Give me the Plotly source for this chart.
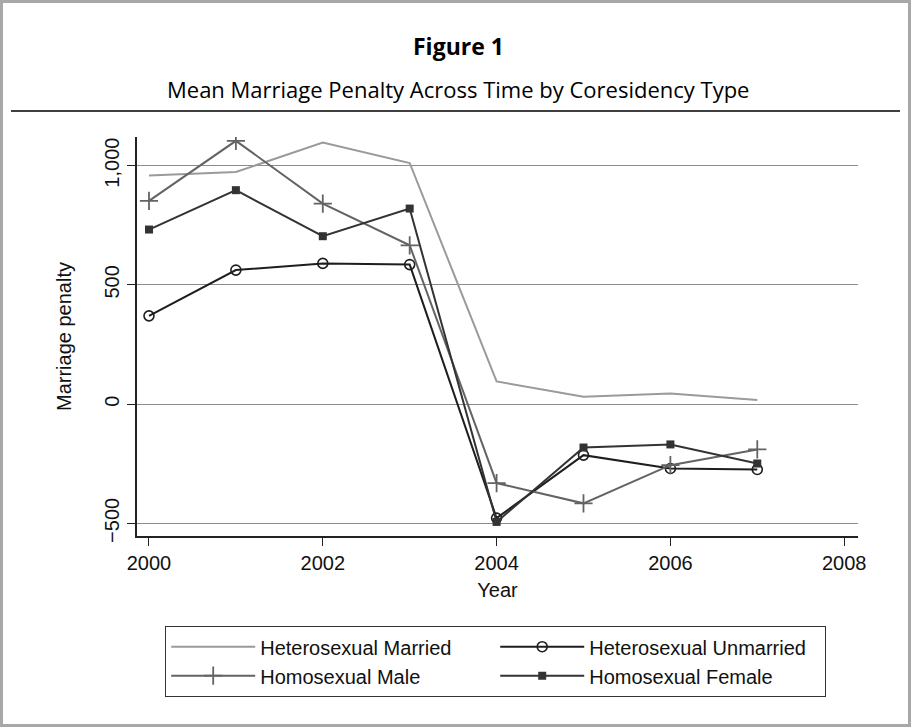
import plotly.graph_objects as go

# Survey years and mean marriage penalty by coresidency type
years = [2000, 2001, 2002, 2003, 2004, 2005, 2006, 2007]
hetero_married = [959, 973, 1097, 1011, 95, 31, 45, 17]
hetero_unmarried = [370, 562, 590, 585, -478, -214, -270, -274]
homo_male = [852, 1104, 841, 666, -331, -416, -256, -190]
homo_female = [732, 897, 704, 820, -494, -182, -169, -249]

y_ticks = [-500, 0, 500, 1000]
y_tick_text = ["\u2212500", "0", "500", "1,000"]
x_ticks = [2000, 2002, 2004, 2006, 2008]

AXIS_FONT = "Liberation Sans, Arial, sans-serif"
TITLE_FONT = "'Open Sans', Lato, sans-serif"
FS = 20

fig = go.Figure()

fig.add_trace(go.Scatter(
    x=years, y=hetero_married, name="Heterosexual Married",
    mode="lines", line=dict(color="#9a9a9a", width=2),
))
fig.add_trace(go.Scatter(
    x=years, y=hetero_unmarried, name="Heterosexual Unmarried",
    mode="lines+markers", line=dict(color="#1e1e1e", width=2),
    marker=dict(symbol="circle-open", size=10, color="#1e1e1e",
                line=dict(width=1.6, color="#1e1e1e")),
))
fig.add_trace(go.Scatter(
    x=years, y=homo_male, name="Homosexual Male",
    mode="lines+markers", line=dict(color="#636363", width=2),
    marker=dict(symbol="cross-thin", size=13, color="#636363",
                line=dict(width=1.8, color="#636363")),
))
fig.add_trace(go.Scatter(
    x=years, y=homo_female, name="Homosexual Female",
    mode="lines+markers", line=dict(color="#333333", width=2),
    marker=dict(symbol="square", size=8, color="#333333"),
))

# plot area: x 137..858 px, y 137..536 px
PL, PR, PT, PB = 137, 858, 137, 536
W, H = 911, 727
pw, ph = PR - PL, PB - PT


def px_x(px):
    return (px - PL) / pw


def px_y(py):
    return (PB - py) / ph


shapes = [
    # outer frame
    dict(type="rect", xref="paper", yref="paper",
         x0=px_x(1.5), x1=px_x(W - 1.5), y0=px_y(H - 1.5), y1=px_y(1.5),
         line=dict(color="#a8a8a8", width=3), layer="below"),
    # rule under the heading
    dict(type="line", xref="paper", yref="paper",
         x0=px_x(11), x1=px_x(900), y0=px_y(111), y1=px_y(111),
         line=dict(color="#000000", width=1.5)),
]

annotations = [
    dict(text="<b>Figure 1</b>", xref="paper", yref="paper",
         x=px_x(458), y=px_y(46), showarrow=False,
         font=dict(family=TITLE_FONT, size=23, color="#000000"),
         xanchor="center", yanchor="middle"),
    dict(text="Mean Marriage Penalty Across Time by Coresidency Type",
         xref="paper", yref="paper", x=px_x(458), y=px_y(89), showarrow=False,
         font=dict(family=TITLE_FONT, size=22, color="#000000"),
         xanchor="center", yanchor="middle"),
]

fig.update_layout(
    width=W, height=H,
    margin=dict(l=PL, r=W - PR, t=PT, b=H - PB, pad=0),
    paper_bgcolor="#ffffff", plot_bgcolor="#ffffff",
    showlegend=True,
    legend=dict(
        orientation="h", x=px_x(165), y=px_y(626),
        xanchor="left", yanchor="top",
        bordercolor="#333333", borderwidth=1.2, bgcolor="#ffffff",
        font=dict(family=AXIS_FONT, size=FS, color="#111111"),
        itemwidth=84, entrywidth=230, traceorder="normal",
    ),
    shapes=shapes,
    annotations=annotations,
    xaxis=dict(
        range=[1999.862, 2008.159], tickvals=x_ticks,
        showgrid=False, zeroline=False,
        showline=True, linecolor="#222222", linewidth=1.5,
        ticks="outside", ticklen=8, tickwidth=1.2, tickcolor="#222222",
        tickfont=dict(family=AXIS_FONT, size=FS, color="#111111"),
        title=dict(text="Year", font=dict(family=AXIS_FONT, size=FS, color="#111111"),
                   standoff=10),
    ),
    yaxis=dict(
        range=[-553, 1120], tickvals=y_ticks, ticktext=y_tick_text,
        tickangle=-90,
        showgrid=True, gridcolor="#8c8c8c", gridwidth=1.2, zeroline=False,
        showline=True, linecolor="#222222", linewidth=1.5,
        ticks="outside", ticklen=8, tickwidth=1.2, tickcolor="#222222",
        tickfont=dict(family=AXIS_FONT, size=FS, color="#111111"),
        title=dict(text="Marriage penalty", font=dict(family=AXIS_FONT, size=FS, color="#111111"),
                   standoff=24),
    ),
)

fig.write_html("out.html")
